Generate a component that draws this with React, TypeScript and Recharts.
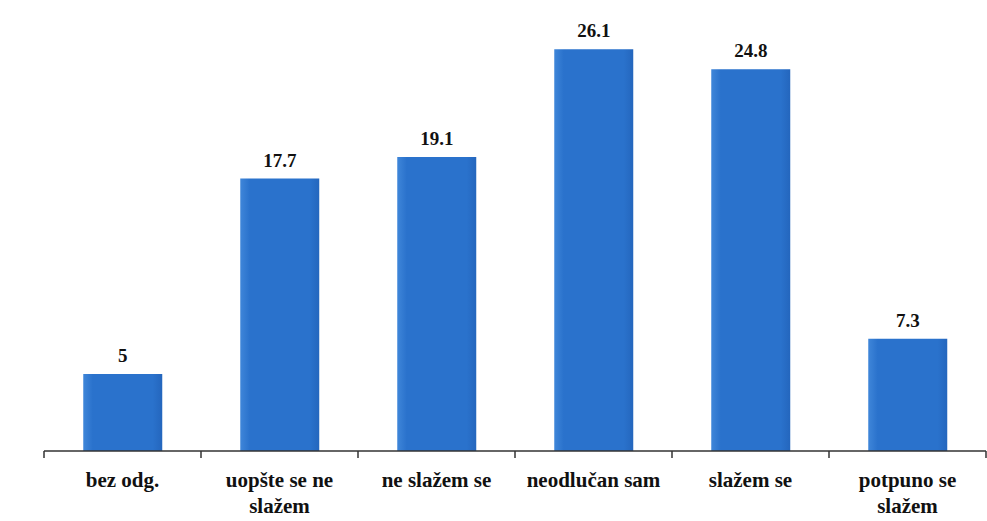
import React from "react";
import { BarChart, Bar, XAxis, YAxis, LabelList } from "recharts";

const categories = ["bez odg.", "uopšte se ne slažem", "ne slažem se", "neodlučan sam", "slažem se", "potpuno se slažem"];
const labelLines = [["bez odg."], ["uopšte se ne", "slažem"], ["ne slažem se"], ["neodlučan sam"], ["slažem se"], ["potpuno se", "slažem"]];
const values = [5, 17.7, 19.1, 26.1, 24.8, 7.3];

const data = categories.map((c, i) => ({ name: c, value: values[i], idx: i }));

const W = 987;
const H = 521;
const ML = 44;
const MR = 1;
const BAND = (W - ML - MR) / categories.length;
const FONT = "'Liberation Serif', 'Times New Roman', serif";

const CatTick = (props: any) => {
  const { x, y, index } = props;
  const lines = labelLines[index] || [];
  const isLast = index === categories.length - 1;
  return (
    <g>
      <line x1={x - BAND / 2} y1={y - 8} x2={x - BAND / 2} y2={y - 1} stroke="#333" strokeWidth={1.5} />
      {isLast && <line x1={x + BAND / 2} y1={y - 8} x2={x + BAND / 2} y2={y - 1} stroke="#333" strokeWidth={1.5} />}
      <text x={x} y={y} textAnchor="middle" style={{ fontFamily: FONT, fontWeight: "bold", fontSize: 21 }} fill="#111">
        {lines.map((l, i) => (
          <tspan key={i} x={x} dy={i === 0 ? 28 : 26}>{l}</tspan>
        ))}
      </text>
    </g>
  );
};

export default function App() {
  return (
    <div style={{ position: "absolute", left: 0, top: 0, width: W, height: H, background: "#fff" }}>
      <BarChart width={W} height={H} data={data} margin={{ top: 20, right: MR, bottom: 0, left: ML }} barCategoryGap="25%">
        <defs>
          <linearGradient id="barGrad" x1="0" y1="0" x2="1" y2="0">
            <stop offset="0%" stopColor="#3f86d9" />
            <stop offset="12%" stopColor="#2a72cc" />
            <stop offset="88%" stopColor="#2a72cc" />
            <stop offset="100%" stopColor="#2466bd" />
          </linearGradient>
        </defs>
        <XAxis dataKey="name" interval={0} tickLine={false} axisLine={{ stroke: "#333", strokeWidth: 1.5 }} tick={<CatTick />} height={70} />
        <YAxis hide domain={[0, 28]} />
        <Bar dataKey="value" fill="url(#barGrad)" isAnimationActive={false}>
          <LabelList dataKey="value" position="top" offset={12} style={{ fontFamily: FONT, fontWeight: "bold", fontSize: 19 }} fill="#111" />
        </Bar>
      </BarChart>
    </div>
  );
}
